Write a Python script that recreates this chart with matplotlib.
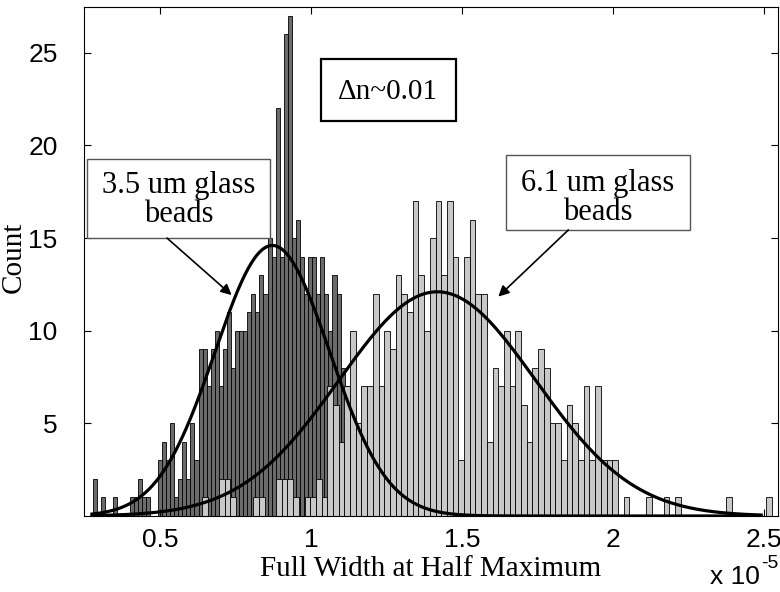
import numpy as np
import matplotlib
matplotlib.use('Agg')
import matplotlib.pyplot as plt
from matplotlib.patches import Rectangle

# ── Datos (eje x en unidades de 1e-5) ────────────────────────────
# histograma 3.5 um (gris oscuro)
dark_start = 0.278
dark_binw = 0.01344
dark_counts = [2, 0, 1, 0, 0, 1, 0, 0, 0, 1, 1, 2, 1, 1, 0, 0, 3, 4, 3, 5,
               1, 2, 4, 2, 5, 3, 9, 9, 7, 9, 10, 7, 9, 11, 8, 10, 10, 10, 11, 12,
               11, 13, 12, 15, 14, 22, 14, 26, 27, 15, 16, 14, 12, 14, 14, 12, 14, 12, 10, 13,
               12, 8, 7, 4, 4, 3, 1]

# histograma 6.1 um (gris claro)
light_start = 0.6387
light_binw = 0.01887
light_counts = [1, 0, 0, 2, 2, 1, 0, 0, 0, 1, 1, 0, 0, 2, 2, 2, 1, 0, 1, 1,
                2, 1, 7, 6, 4, 7, 10, 5, 7, 7, 12, 7, 10, 9, 13, 12, 11, 17, 13, 10,
                15, 17, 13, 17, 14, 3, 14, 16, 12, 12, 4, 8, 7, 10, 7, 10, 6, 4, 8, 9,
                8, 5, 5, 3, 6, 5, 3, 7, 3, 7, 3, 3, 3, 0, 1, 0, 0, 0, 1, 0,
                0, 1, 0, 1, 0, 0, 0, 0, 0, 0, 0, 0, 1, 0, 0, 0, 0, 0, 0, 1]

# ajustes gaussianos: (pico, media, sigma)
fit_range = (0.275, 2.49)
dark_fit = (14.6, 0.872, 0.19)
light_fit = (12.1, 1.418, 0.325)

xticks = [0.5, 1, 1.5, 2, 2.5]
xticklabels = ['0.5', '1', '1.5', '2', '2.5']
yticks = [5, 10, 15, 20, 25]

SERIF = 'Liberation Serif'
SANS = 'Liberation Sans'

# ── Figura ───────────────────────────────────────────────────────
fig = plt.figure(figsize=(7.8, 5.92), dpi=100)
ax = fig.add_axes([0.1077, 0.1284, 0.8897, 0.8598])

dark_left = dark_start + dark_binw * np.arange(len(dark_counts))
light_left = light_start + light_binw * np.arange(len(light_counts))

ax.bar(dark_left, dark_counts, width=dark_binw, align='edge',
       color='#6b6b6b', edgecolor='black', linewidth=0.6, zorder=1)
ax.bar(light_left, light_counts, width=light_binw, align='edge',
       color='#c8c8c8', edgecolor='black', linewidth=0.6, zorder=2)

xs = np.linspace(fit_range[0], fit_range[1], 400)
for peak, mu, sd in (dark_fit, light_fit):
    ax.plot(xs, peak * np.exp(-(xs - mu) ** 2 / (2 * sd ** 2)),
            color='black', linewidth=2.3, zorder=3)

ax.set_xlim(0.2483, 2.546)
ax.set_ylim(0, 27.47)
ax.set_xticks(xticks)
ax.set_xticklabels(xticklabels)
ax.set_yticks(yticks)
ax.tick_params(direction='in', length=5, width=0.8, top=True, right=True,
               labelsize=19)
ax.tick_params(axis='y', pad=19)
ax.tick_params(axis='x', pad=9)
for lab in ax.get_xticklabels() + ax.get_yticklabels():
    lab.set_fontfamily(SANS)
for sp in ax.spines.values():
    sp.set_linewidth(0.8)

ax.set_xlabel('Full Width at Half Maximum', family=SERIF, fontsize=21)
ax.xaxis.set_label_coords(0.5, -0.078)
ax.set_ylabel('Count', family=SERIF, fontsize=21)
ax.yaxis.set_label_coords(-0.083, 0.509)

# ── Cajas de texto y flechas ─────────────────────────────────────
ax.add_patch(Rectangle((0.341, 0.776), 0.195, 0.122, transform=ax.transAxes,
                       facecolor='white', edgecolor='black', linewidth=1.6, zorder=4))
ax.text(0.4385, 0.832, '\u0394n~0.01', transform=ax.transAxes, ha='center', va='center',
        family=SERIF, fontsize=21, zorder=5)

ax.add_patch(Rectangle((0.004, 0.546), 0.264, 0.155, transform=ax.transAxes,
                       facecolor='white', edgecolor='#555555', linewidth=1.0, zorder=4))
ax.text(0.136, 0.621, '3.5 um glass\nbeads', transform=ax.transAxes, ha='center',
        va='center', family=SERIF, fontsize=22, linespacing=1.0, zorder=5)

ax.add_patch(Rectangle((0.608, 0.562), 0.265, 0.147, transform=ax.transAxes,
                       facecolor='white', edgecolor='#555555', linewidth=1.0, zorder=4))
ax.text(0.7405, 0.624, '6.1 um glass\nbeads', transform=ax.transAxes, ha='center',
        va='center', family=SERIF, fontsize=22, linespacing=1.0, zorder=5)

arrow = dict(arrowstyle='-|>', color='black', linewidth=1.2, mutation_scale=16,
             shrinkA=0, shrinkB=0)
ax.annotate('', xy=(0.2128, 0.434), xytext=(0.1196, 0.546),
            xycoords='axes fraction', textcoords='axes fraction', arrowprops=arrow, zorder=6)
ax.annotate('', xy=(0.597, 0.431), xytext=(0.698, 0.562),
            xycoords='axes fraction', textcoords='axes fraction', arrowprops=arrow, zorder=6)

# factor de escala del eje x
fig.text(0.974, 0.014, 'x 10', ha='right', va='baseline', family=SANS, fontsize=19)
fig.text(0.998, 0.040, '-5', ha='right', va='baseline', family=SANS, fontsize=14)

fig.savefig('out.png', dpi=100)
